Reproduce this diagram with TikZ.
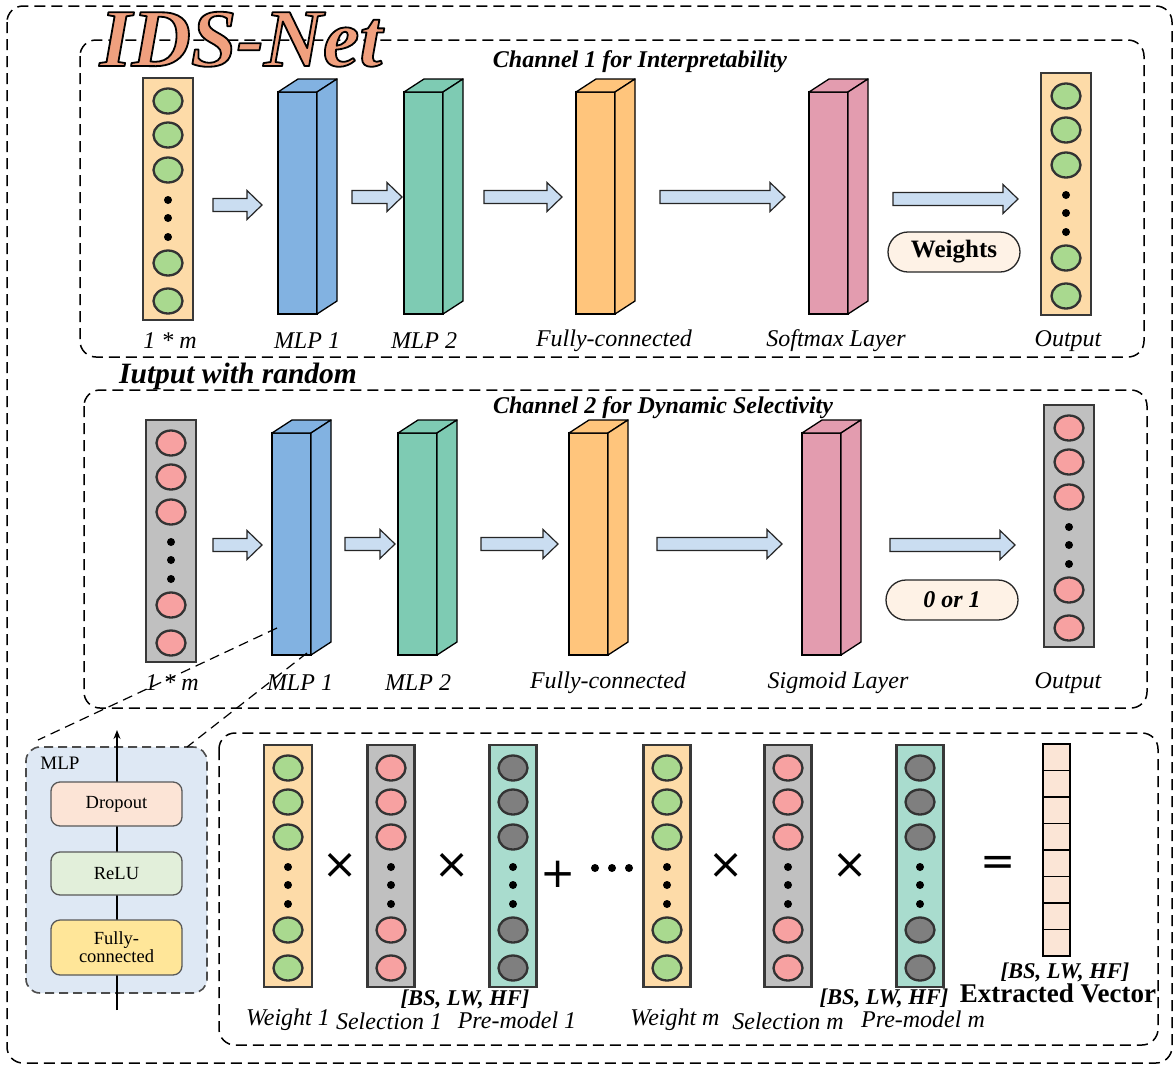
\documentclass[tikz,border=0pt]{standalone}
\usepackage{fontspec}
\setmainfont{Liberation Serif}
\newfontfamily\opfont{DejaVu Sans}
\usetikzlibrary{arrows.meta,calc}
\definecolor{colOrange}{HTML}{FDDBA8}
\definecolor{colGreen}{HTML}{A9D98F}
\definecolor{colGray}{HTML}{C0C0C0}
\definecolor{colPink}{HTML}{F7A1A1}
\definecolor{colTeal}{HTML}{A9DCCE}
\definecolor{colDark}{HTML}{7F7F7F}
\definecolor{cubeBlue}{HTML}{82B2E1}
\definecolor{cubeTeal}{HTML}{7ECBB3}
\definecolor{cubeOrange}{HTML}{FFC57C}
\definecolor{cubePink}{HTML}{E39CAF}
\definecolor{arrowBlue}{HTML}{CADDF1}
\definecolor{pillFill}{HTML}{FEF2E6}
\definecolor{idsSalmon}{HTML}{F0A07E}
\definecolor{mlpBg}{HTML}{DEE8F4}
\definecolor{dropFill}{HTML}{FCE4D6}
\definecolor{reluFill}{HTML}{E2EFDA}
\definecolor{fcFill}{HTML}{FFE699}
\definecolor{vecFill}{HTML}{FBE5D6}
\tikzset{
  frame/.style={draw=black, dash pattern=on 11pt off 6pt, line width=1.5pt, rounded corners=16pt},
  colbox/.style={draw=black!78, line width=2.6pt, minimum height=242pt, inner sep=0, outer sep=0},
  neuron/.style={draw=black!80, line width=2.3pt},
  cubefront/.style={draw=black, line width=1.3pt, inner sep=0, outer sep=0},
  cubeedge/.style={draw=black, line width=1.3pt, line join=round},
  barrow/.style={draw=black!85, fill=arrowBlue, line width=1.2pt},
  lab/.style={font=\fontsize{24}{28}\selectfont\itshape, inner sep=0},
  ttl/.style={font=\fontsize{24}{28}\selectfont\bfseries\itshape, inner sep=0},
  bsl/.style={font=\fontsize{22.5}{26}\selectfont\bfseries\itshape, inner sep=0},
  pill/.style={draw=black!85, fill=pillFill, line width=1.3pt, rounded corners=20pt, minimum width=132pt, minimum height=40pt},
  idsfont/.style={font=\fontsize{82}{90}\selectfont\bfseries\itshape, inner sep=0, anchor=base},
  mlpstep/.style={draw=black!65, line width=1.3pt, rounded corners=9pt, minimum width=131pt, font=\fontsize{18.5}{20}\selectfont, align=center, inner sep=0},
  opsym/.style={font=\fontsize{42}{46}\selectfont\opfont, inner sep=0},
  veccell/.style={draw=black, fill=vecFill, line width=1.3pt, minimum width=27pt, minimum height=26.5pt, inner sep=0, outer sep=0},
  projline/.style={draw=black, dash pattern=on 10pt off 6pt, line width=1.2pt}
}
% name, xc, top, width, boxfill, circlefill
\newcommand{\neurcol}[6]{%
  \node[colbox, fill=#5, minimum width=#4] (#1) at (#2, #3+121) {};
  \foreach \dy in {23,57,92,185,223} \draw[neuron, fill=#6] (#2,#3+\dy) ellipse [x radius=14.5, y radius=12.5];
  \foreach \dy in {122,140,159} \fill (#2,#3+\dy) circle [radius=4];
}
% name, xleft, ytop, w, h, colour
\newcommand{\cuboid}[6]{%
  \node[cubefront, fill=#6, minimum width=#4, minimum height=#5, anchor=north west] (#1) at (#2,#3) {};
  \draw[cubeedge, fill=#6] (#1.north west) -- ++(20,-13) -- ++(#4,0) -- (#1.north east) -- cycle;
  \draw[cubeedge, fill=#6] (#1.north east) -- ++(20,-13) -- ++(0,#5) -- (#1.south east) -- cycle;
}
% x1, x2, y
\newcommand{\blockarr}[3]{%
  \draw[barrow] (#1,#3-6.5) -- (#2-15,#3-6.5) -- (#2-15,#3-14.5) -- (#2,#3) -- (#2-15,#3+14.5) -- (#2-15,#3+6.5) -- (#1,#3+6.5) -- cycle;
}
\newcommand{\outlinetext}[1]{\special{pdf:literal direct 0 0 0 RG 1.8 w 1 j 2 Tr}#1\special{pdf:literal direct 0 Tr}}
\begin{document}
\begin{tikzpicture}[x=1pt,y=-1pt]
\useasboundingbox (0,0) rectangle (1176,1066);
\fill[white] (0,0) rectangle (1176,1066);

% frames
\draw[frame] (7,6) rectangle (1172,1063);
\draw[frame] (80,40) rectangle (1144,357);
\draw[frame] (84,390) rectangle (1147,708);
\draw[frame] (219,733) rectangle (1158,1045);

% title
\node[idsfont, text=idsSalmon] (ids) at (241,66) {\outlinetext{IDS-Net}};

% ---------- Channel 1 ----------
\node[ttl] (t1) at (640,62) {Channel 1 for Interpretability};
\neurcol{in1}{168}{78}{50}{colOrange}{colGreen}
\cuboid{m11}{278}{92}{39}{222}{cubeBlue}
\cuboid{m12}{404}{92}{39}{222}{cubeTeal}
\cuboid{fc1}{576}{92}{39}{222}{cubeOrange}
\cuboid{sm1}{809}{92}{39}{222}{cubePink}
\neurcol{out1}{1066}{73}{50}{colOrange}{colGreen}
\blockarr{213}{262}{205}
\blockarr{352}{402}{197}
\blockarr{484}{562}{197}
\blockarr{660}{785}{197}
\blockarr{893}{1018}{199}
\node[pill, font=\fontsize{25}{28}\selectfont\bfseries] (wts) at (954,252) {Weights};
\node[lab] (l11) at (170,341) {1 * m};
\node[lab] (l12) at (307,341) {MLP 1};
\node[lab] (l13) at (424,341) {MLP 2};
\node[lab] (l14) at (614,341) {Fully-connected};
\node[lab] (l15) at (836,341) {Softmax Layer};
\node[lab] (l16) at (1068,341) {Output};

% ---------- Channel 2 ----------
\node[font=\fontsize{29.5}{32}\selectfont\bfseries\itshape, inner sep=0] (rnd) at (238,376) {Iutput with random};
\node[ttl] (t2) at (663,408) {Channel 2 for Dynamic Selectivity};
\neurcol{in2}{171}{420}{50}{colGray}{colPink}
\cuboid{m21}{272}{433}{39}{222}{cubeBlue}
\cuboid{m22}{398}{433}{39}{222}{cubeTeal}
\cuboid{fc2}{569}{433}{39}{222}{cubeOrange}
\cuboid{sg2}{802}{433}{39}{222}{cubePink}
\neurcol{out2}{1069}{405}{50}{colGray}{colPink}
\blockarr{213}{262}{545}
\blockarr{345}{395}{544}
\blockarr{481}{558}{544}
\blockarr{657}{782}{544}
\blockarr{890}{1015}{545}
\node[pill, font=\fontsize{24}{28}\selectfont\bfseries\itshape] (zo) at (952,600) {0 or 1};
\node[lab] (l21) at (172,683) {1 * m};
\node[lab] (l22) at (300,683) {MLP 1};
\node[lab] (l23) at (418,683) {MLP 2};
\node[lab] (l24) at (608,683) {Fully-connected};
\node[lab] (l25) at (838,683) {Sigmoid Layer};
\node[lab] (l26) at (1068,683) {Output};

% ---------- MLP detail ----------
\node[draw=black!70, fill=mlpBg, dash pattern=on 9pt off 5pt, line width=1.6pt, rounded corners=14pt,
      minimum width=181pt, minimum height=246pt, inner sep=0, outer sep=0] (mlpbox) at (116.5,870) {};
\node[font=\fontsize{19}{21}\selectfont, inner sep=0] (mlptxt) at (60,763) {MLP};
\coordinate (mlpin) at (117,1010);
\coordinate (mlpout) at (117,730);
\draw[line width=1.3pt, -{Stealth[length=9pt,width=7pt]}] (mlpin) -- (mlpout);
\node[mlpstep, fill=dropFill, minimum height=44pt] (drop) at (116.5,804) {Dropout};
\node[mlpstep, fill=reluFill, minimum height=43pt] (relu) at (116.5,873.5) {ReLU};
\node[mlpstep, fill=fcFill, minimum height=55pt] (fcm) at (116.5,947.5) {Fully-\\[-2pt]connected};

% projection lines
\coordinate (p1) at (277,628);
\coordinate (p2) at (307,653);
\coordinate (q1) at (38,740);
\coordinate (q2) at (187,747);
\draw[projline] (p1) -- (q1);
\draw[projline] (p2) -- (q2);

% ---------- Bottom combination ----------
\neurcol{w1}{288}{745}{48}{colOrange}{colGreen}
\neurcol{s1}{391}{745}{47}{colGray}{colPink}
\neurcol{pm1}{513}{745}{47}{colTeal}{colDark}
\neurcol{wm}{667}{745}{47}{colOrange}{colGreen}
\neurcol{sm}{788}{745}{47}{colGray}{colPink}
\neurcol{pmm}{920}{745}{47}{colTeal}{colDark}
\node[opsym] (x1) at (340,866) {×};
\node[opsym] (x2) at (452,866) {×};
\node[opsym] (pl) at (558,874) {+};
\foreach \xx [count=\i] in {595,612,629} \fill (\xx,868) circle [radius=4];
\node[opsym] (x3) at (726,866) {×};
\node[opsym] (x4) at (850,866) {×};
\node[opsym] (eq) at (998,866) {=};
\foreach \k in {1,...,8}
  \node[veccell] (v\k) at (1056.5,{744+13.25+(\k-1)*26.5}) {};

\node[bsl] (bs1) at (465,999) {[BS, LW, HF]};
\node[bsl] (bs2) at (884,998) {[BS, LW, HF]};
\node[bsl] (bs3) at (1065,972) {[BS, LW, HF]};
\node[font=\fontsize{27}{30}\selectfont\bfseries, inner sep=0] (ev) at (1058,993) {Extracted Vector};
\node[lab] (b1) at (288,1020) {Weight 1};
\node[lab] (b2) at (389,1021) {Selection 1};
\node[lab] (b3) at (517,1020) {Pre-model 1};
\node[lab] (b4) at (675,1020) {Weight m};
\node[lab] (b5) at (788,1021) {Selection m};
\node[lab] (b6) at (923,1019) {Pre-model m};
\end{tikzpicture}
\end{document}
